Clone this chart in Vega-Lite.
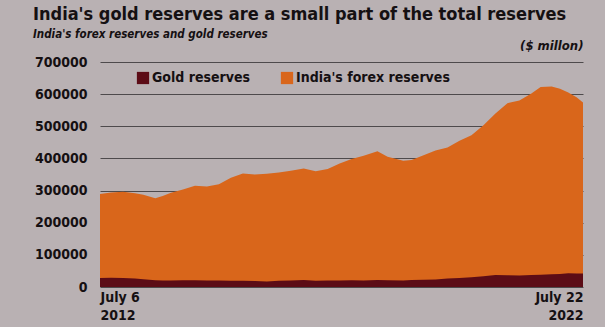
{
  "$schema": "https://vega.github.io/schema/vega-lite/v6.json",
  "width": 483,
  "height": 225,
  "autosize": "none",
  "padding": {"left": 100, "top": 62, "right": 22, "bottom": 40},
  "background": "#b9b1b3",
  "title": {
    "text": "India's gold reserves are a small part of the total reserves",
    "subtitle": "India's forex reserves and gold reserves",
    "anchor": "start",
    "frame": "group",
    "dx": -67,
    "offset": -1,
    "font": "DejaVu Sans Condensed, sans-serif",
    "fontSize": 18,
    "fontWeight": "bold",
    "color": "#151012",
    "subtitleFont": "DejaVu Sans Condensed, sans-serif",
    "subtitleFontSize": 11.5,
    "subtitleFontStyle": "italic",
    "subtitleFontWeight": "bold",
    "subtitleColor": "#151012",
    "subtitlePadding": 5
  },
  "config": {
    "view": {"stroke": null},
    "font": "DejaVu Sans Condensed, sans-serif"
  },
  "data": {
    "values": [
      {"date": "2012-07-06", "forex": 289000, "gold": 28000},
      {"date": "2012-09-28", "forex": 294000, "gold": 28500},
      {"date": "2012-12-28", "forex": 296000, "gold": 28000},
      {"date": "2013-03-29", "forex": 292000, "gold": 26500},
      {"date": "2013-05-31", "forex": 287000, "gold": 24000},
      {"date": "2013-08-30", "forex": 276000, "gold": 21000},
      {"date": "2013-10-25", "forex": 283000, "gold": 20500},
      {"date": "2013-12-27", "forex": 293000, "gold": 20500},
      {"date": "2014-03-28", "forex": 303000, "gold": 21000},
      {"date": "2014-06-27", "forex": 315000, "gold": 21000},
      {"date": "2014-09-26", "forex": 313000, "gold": 20500},
      {"date": "2014-12-26", "forex": 320000, "gold": 20000},
      {"date": "2015-03-27", "forex": 340000, "gold": 19500},
      {"date": "2015-06-26", "forex": 353000, "gold": 19500},
      {"date": "2015-09-25", "forex": 350000, "gold": 18500},
      {"date": "2015-12-25", "forex": 352000, "gold": 17500},
      {"date": "2016-03-25", "forex": 356000, "gold": 19500},
      {"date": "2016-06-24", "forex": 362000, "gold": 20500},
      {"date": "2016-09-30", "forex": 369000, "gold": 21500},
      {"date": "2016-12-30", "forex": 360000, "gold": 19500},
      {"date": "2017-03-31", "forex": 367000, "gold": 20000},
      {"date": "2017-06-30", "forex": 384000, "gold": 20500},
      {"date": "2017-09-29", "forex": 398000, "gold": 21000},
      {"date": "2017-12-29", "forex": 408000, "gold": 20500},
      {"date": "2018-04-13", "forex": 422000, "gold": 21500},
      {"date": "2018-06-29", "forex": 405000, "gold": 21000},
      {"date": "2018-10-26", "forex": 393000, "gold": 20500},
      {"date": "2018-12-28", "forex": 395000, "gold": 21500},
      {"date": "2019-03-29", "forex": 410000, "gold": 22500},
      {"date": "2019-06-28", "forex": 425000, "gold": 23500},
      {"date": "2019-09-27", "forex": 434000, "gold": 26500},
      {"date": "2019-12-27", "forex": 455000, "gold": 28000},
      {"date": "2020-03-27", "forex": 472000, "gold": 30500},
      {"date": "2020-06-26", "forex": 503000, "gold": 33500},
      {"date": "2020-09-25", "forex": 540000, "gold": 37000},
      {"date": "2020-12-25", "forex": 572000, "gold": 36500},
      {"date": "2021-03-26", "forex": 580000, "gold": 35500},
      {"date": "2021-06-25", "forex": 602000, "gold": 37500},
      {"date": "2021-09-03", "forex": 622000, "gold": 38500},
      {"date": "2021-11-26", "forex": 624000, "gold": 39500},
      {"date": "2022-01-28", "forex": 617000, "gold": 40500},
      {"date": "2022-04-01", "forex": 605000, "gold": 42500},
      {"date": "2022-06-03", "forex": 590000, "gold": 42000},
      {"date": "2022-07-22", "forex": 574000, "gold": 42000}
    ]
  },
  "transform": [
    {"fold": ["forex", "gold"], "as": ["series", "value"]}
  ],
  "encoding": {
    "x": {
      "field": "date",
      "type": "temporal",
      "scale": {"domain": ["2012-07-06", "2022-07-22"]},
      "axis": {
        "values": ["2012-07-06", "2022-07-22"],
        "labelExpr": "[timeFormat(datum.value, '%B %-d'), timeFormat(datum.value, '%Y')]",
        "labelFlush": true,
        "labelOverlap": false,
        "grid": false,
        "domain": false,
        "ticks": false,
        "title": null,
        "labelFontSize": 14,
        "labelFontWeight": "bold",
        "labelColor": "#151012",
        "labelPadding": 3,
        "labelLineHeight": 18
      }
    },
    "y": {
      "field": "value",
      "type": "quantitative",
      "stack": null,
      "scale": {"domain": [0, 700000], "nice": false},
      "axis": {
        "values": [0, 100000, 200000, 300000, 400000, 500000, 600000, 700000],
        "format": "d",
        "labelOverlap": false,
        "domain": false,
        "ticks": false,
        "grid": true,
        "gridColor": "#4e4a4c",
        "gridWidth": 1,
        "labelFontSize": 14,
        "labelFontWeight": "bold",
        "labelColor": "#151012",
        "labelPadding": 13,
        "title": "($ millon)",
        "titleAngle": 0,
        "titleAlign": "right",
        "titleBaseline": "middle",
        "titleX": 483,
        "titleY": -17,
        "titleFontSize": 13,
        "titleFontStyle": "italic",
        "titleFontWeight": "bold",
        "titleColor": "#151012"
      }
    },
    "color": {
      "field": "series",
      "type": "nominal",
      "scale": {
        "domain": ["gold", "forex"],
        "range": ["#5c0c16", "#d9661b"]
      },
      "legend": {
        "title": null,
        "orient": "none",
        "direction": "horizontal",
        "legendX": 36,
        "legendY": 9,
        "labelExpr": "datum.label == 'gold' ? 'Gold reserves' : \"India's forex reserves\"",
        "symbolType": "square",
        "symbolSize": 150,
        "symbolOpacity": 1,
        "symbolStrokeWidth": 0,
        "labelFontSize": 14,
        "labelFontWeight": "bold",
        "labelColor": "#151012",
        "labelOffset": 2,
        "columnPadding": 30
      }
    }
  },
  "layer": [
    {
      "transform": [{"filter": "datum.series == 'forex'"}],
      "mark": {"type": "area", "opacity": 1}
    },
    {
      "transform": [{"filter": "datum.series == 'gold'"}],
      "mark": {"type": "area", "opacity": 1}
    }
  ]
}
